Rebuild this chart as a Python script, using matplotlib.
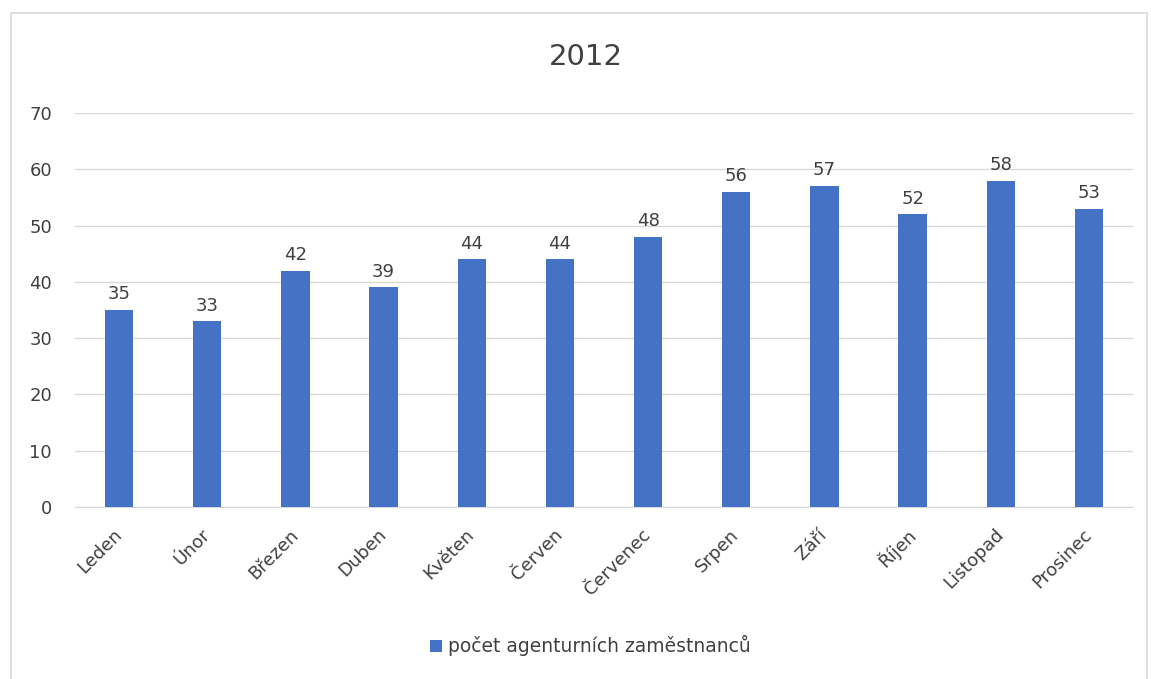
import matplotlib.pyplot as plt
from matplotlib.patches import Rectangle

mesice = ['Leden', 'Únor', 'Březen', 'Duben', 'Květen', 'Červen',
          'Červenec', 'Srpen', 'Září', 'Říjen', 'Listopad', 'Prosinec']
pocty = [35, 33, 42, 39, 44, 44, 48, 56, 57, 52, 58, 53]
nazev_rady = 'počet agenturních zaměstnanců'

plt.rcParams['font.family'] = ['DejaVu Sans']

fig = plt.figure(figsize=(11.51, 6.79), dpi=100)
ax = fig.add_axes([75/1151, 1 - 507/679, (1133-75)/1151, (507-113)/679])

x = range(len(mesice))
bars = ax.bar(x, pocty, width=0.32, color='#4472C4', zorder=3,
              label=nazev_rady)
for b, v in zip(bars, pocty):
    ax.text(b.get_x() + b.get_width()/2, v + 1.2, str(v), ha='center',
            va='bottom', fontsize=13, color='#404040')

ax.set_xlim(-0.5, len(mesice) - 0.5)
ax.set_ylim(0, 70)
ax.set_yticks(range(0, 71, 10))
ax.yaxis.grid(True, color='#d9d9d9', linewidth=1, zorder=0)
for s in ['top', 'right', 'left']:
    ax.spines[s].set_visible(False)
ax.spines['bottom'].set_color('#d9d9d9')
ax.tick_params(axis='both', length=0, labelsize=13, labelcolor='#404040')
ax.tick_params(axis='y', pad=16.5)
ax.set_xticks(list(x))
ax.set_xticklabels(mesice, rotation=45, ha='right', va='center',
                   rotation_mode='anchor')
ax.tick_params(axis='x', pad=18)

fig.text(586/1151, 1 - 57/679, '2012', ha='center', va='center',
         fontsize=21, color='#404040')

fig.legend(handles=[bars], labels=[nazev_rady], loc='center',
           bbox_to_anchor=(590/1151, 1 - 646/679), frameon=False,
           fontsize=13.5, handlelength=0.65, handleheight=0.65,
           handletextpad=0.3, labelcolor='#404040')

fig.patches.append(Rectangle((11/1151, -0.01), 1136/1151, 1 - 13/679 + 0.01,
                             transform=fig.transFigure, fill=False,
                             edgecolor='#d9d9d9', linewidth=1.2))

fig.savefig('out.png', dpi=100)
